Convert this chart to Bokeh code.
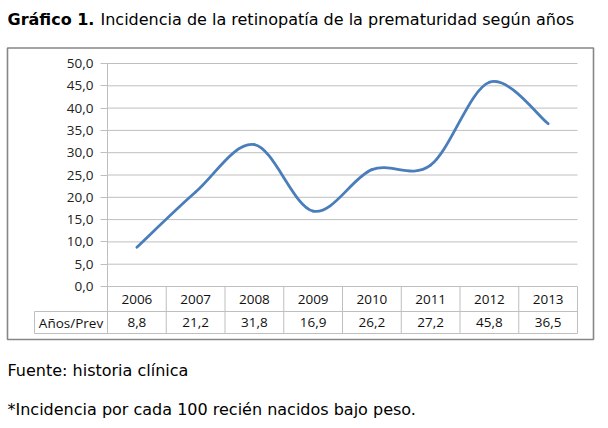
from bokeh.plotting import figure
from bokeh.models import Range1d, LinearAxis, FixedTicker, CustomJSTickFormatter
from bokeh.core.properties import value
from bokeh.embed import file_html
from bokeh.resources import INLINE

# ---------------- data ----------------
years = ["2006", "2007", "2008", "2009", "2010", "2011", "2012", "2013"]
prevalence = [8.8, 21.2, 31.8, 16.9, 26.2, 27.2, 45.8, 36.5]
y_ticks = [0, 5, 10, 15, 20, 25, 30, 35, 40, 45, 50]
title_bold = "Gráfico 1."
title_rest = "Incidencia de la retinopatía de la prematuridad según años"
row_header = "Años/Prev"
source_note = "Fuente: historia clínica"
foot_note = "*Incidencia por cada 100 recién nacidos bajo peso."

# ---------------- layout (page pixels) ----------------
W, H, OFF = 600, 420, 0
PL, PR, PT, PB = 107, 577, 63, 286      # plot area
YMAX = 50
n = len(years)
ux = (PR - PL) / n
uy = (PB - PT) / YMAX
x_start = (OFF - PL) / ux
x_end = n + (OFF + W - PR) / ux
y_start = -(OFF + H - PB) / uy
y_end = YMAX + (PT - OFF) / uy

ROW1_B, ROW2_B, HDR_L = 311, 333, 34
FRAME = dict(left=7, right=593, top=47.5, bottom=339)
GRID_C = "#bfbfbf"
TXT_FONT = value("Open Sans")
TXT_SIZE = "13.5px"
TITLE_FONT = value("DejaVu Sans")
TITLE_SIZE = "16px"

p = figure(width=W, height=H, x_range=Range1d(x_start, x_end),
           y_range=Range1d(y_start, y_end), output_backend="svg",
           toolbar_location=None, x_axis_type=None, y_axis_type=None,
           min_border=0)
p.extra_x_ranges = {"px": Range1d(OFF, OFF + W)}
p.extra_y_ranges = {"px": Range1d(OFF + H, OFF)}
p.outline_line_color = None
p.background_fill_color = "white"

# outer frame
p.quad(left=[FRAME["left"]], right=[FRAME["right"]], top=[FRAME["top"]],
       bottom=[FRAME["bottom"]], x_range_name="px", y_range_name="px",
       fill_color=None, line_color="#878787", line_width=1.6)

# horizontal gridlines
p.segment(x0=[0] * len(y_ticks), x1=[n] * len(y_ticks), y0=y_ticks, y1=y_ticks,
          line_color=GRID_C, line_width=1)

# y axis
yax = LinearAxis(ticker=FixedTicker(ticks=y_ticks),
                 formatter=CustomJSTickFormatter(code="return tick.toFixed(1).replace('.', ',');"),
                 fixed_location=0, bounds=(-(ROW2_B - PB) / uy, YMAX))
yax.axis_line_color = GRID_C
yax.axis_line_width = 1
yax.major_tick_line_color = GRID_C
yax.major_tick_out = 7
yax.major_tick_in = 0
yax.minor_tick_line_color = None
yax.major_label_standoff = 7
yax.major_label_text_font = "Open Sans"
yax.major_label_text_font_size = TXT_SIZE
yax.major_label_text_color = "#222222"
p.add_layout(yax, "left")

# data table lines
p.segment(x0=[HDR_L, HDR_L], x1=[PR, PR], y0=[ROW1_B, ROW2_B], y1=[ROW1_B, ROW2_B],
          x_range_name="px", y_range_name="px", line_color=GRID_C, line_width=1)
p.segment(x0=[HDR_L], x1=[HDR_L], y0=[ROW1_B], y1=[ROW2_B],
          x_range_name="px", y_range_name="px", line_color=GRID_C, line_width=1)
col_edges = list(range(1, n + 1))
p.segment(x0=col_edges, x1=col_edges, y0=[PB] * n, y1=[ROW2_B] * n,
          y_range_name="px", line_color=GRID_C, line_width=1)

xs = [i + 0.5 for i in range(n)]
p.text(x=xs, y=[(PB + ROW1_B) / 2] * n, text=years, y_range_name="px",
       text_font=TXT_FONT, text_font_size=TXT_SIZE, text_align="center",
       text_baseline="middle", text_color="#111111")
p.text(x=xs, y=[(ROW1_B + ROW2_B) / 2] * n,
       text=[f"{v:.1f}".replace(".", ",") for v in prevalence], y_range_name="px",
       text_font=TXT_FONT, text_font_size=TXT_SIZE, text_align="center",
       text_baseline="middle", text_color="#111111")
p.text(x=[(HDR_L + PL) / 2], y=[(ROW1_B + ROW2_B) / 2], text=[row_header],
       x_range_name="px", y_range_name="px", text_font=TXT_FONT,
       text_font_size=TXT_SIZE, text_align="center", text_baseline="middle",
       text_color="#111111")

# smoothed line through data points (cubic Bezier, Catmull-Rom tangents)
pts = list(zip(xs, prevalence))
bx0, by0, bx1, by1, cx0, cy0, cx1, cy1 = ([] for _ in range(8))
for i in range(n - 1):
    p0 = pts[i - 1] if i > 0 else pts[i]
    p1 = pts[i]
    p2 = pts[i + 1]
    p3 = pts[i + 2] if i + 2 < n else pts[i + 1]
    bx0.append(p1[0]); by0.append(p1[1])
    bx1.append(p2[0]); by1.append(p2[1])
    cx0.append(p1[0] + (p2[0] - p0[0]) / 6); cy0.append(p1[1] + (p2[1] - p0[1]) / 6)
    cx1.append(p2[0] - (p3[0] - p1[0]) / 6); cy1.append(p2[1] - (p3[1] - p1[1]) / 6)
p.bezier(x0=bx0, y0=by0, x1=bx1, y1=by1, cx0=cx0, cy0=cy0, cx1=cx1, cy1=cy1,
         line_color="#4a7ebb", line_width=2.8, line_cap="round")

# title and notes
p.text(x=[7], y=[19], text=[title_bold], x_range_name="px", y_range_name="px",
       text_font=TITLE_FONT, text_font_style="bold", text_font_size=TITLE_SIZE,
       text_baseline="middle", text_color="black")
p.text(x=[100], y=[19], text=[title_rest], x_range_name="px", y_range_name="px",
       text_font=TITLE_FONT, text_font_size=TITLE_SIZE,
       text_baseline="middle", text_color="black")
p.text(x=[7, 7], y=[370, 409], text=[source_note, foot_note], x_range_name="px",
       y_range_name="px", text_font=TITLE_FONT, text_font_size=TITLE_SIZE,
       text_baseline="middle", text_color="black")

open("out.html", "w").write(file_html(p, INLINE))
